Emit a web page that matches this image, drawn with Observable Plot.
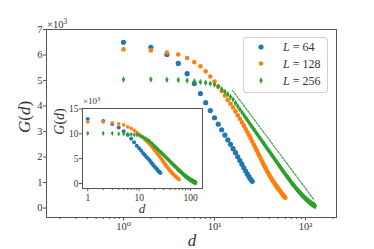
<!DOCTYPE html>
<html><head><meta charset="utf-8">
<script src="https://cdn.jsdelivr.net/npm/d3@7"></script>
<script src="https://cdn.jsdelivr.net/npm/@observablehq/plot@0.6"></script>
<style>
body{margin:0;background:#fff;}
#wrap{position:relative;width:374px;height:249px;}
#wrap svg{position:absolute;left:0;top:0;}
</style></head><body><div id="wrap"></div>
<script>
// ---- data (main panel, G in units of 10^3, d = 1,2,3,...) ----
const blueG = [6.50,6.30,6.02,5.67,5.27,4.88,4.49,4.13,3.82,3.54,3.29,3.07,2.86,2.67,2.50,2.33,2.17,2.01,1.86,1.72,1.58,1.45,1.33,1.22,1.13,1.05];
const orangeG = [6.22,6.18,6.10,6.02,5.88,5.72,5.56,5.36,5.16,4.96,4.77,4.59,4.41,4.24,4.09,3.94,3.79,3.64,3.50,3.36,3.23,3.10,2.97,2.85,2.73,2.61,2.49,2.38,2.27,2.16,2.06,1.96,1.86,1.77,1.68,1.60,1.52,1.44,1.37,1.30,1.23,1.17,1.11,1.05,1.00,0.95,0.90,0.85,0.81,0.77,0.73,0.69,0.65,0.61,0.57,0.53,0.49,0.46,0.43,0.40];
const greenG = [5.04,5.04,5.03,5.02,5.00,4.97,4.94,4.91,4.88,4.84,4.76,4.66,4.56,4.46,4.36,4.26,4.12,3.99,3.87,3.76,3.65,3.54,3.45,3.35,3.26,3.17,3.09,3.01,2.93,2.86,2.78,2.71,2.65,2.58,2.52,2.45,2.39,2.33,2.28,2.22,2.17,2.11,2.06,2.01,1.96,1.91,1.86,1.82,1.77,1.73,1.68,1.64,1.60,1.56,1.51,1.47,1.44,1.40,1.36,1.32,1.29,1.26,1.23,1.20,1.16,1.13,1.10,1.07,1.03,1.00,0.97,0.95,0.92,0.90,0.87,0.85,0.82,0.80,0.77,0.75,0.72,0.70,0.68,0.66,0.64,0.62,0.60,0.58,0.56,0.54,0.52,0.50,0.49,0.47,0.45,0.44,0.42,0.40,0.39,0.37,0.36,0.34,0.33,0.32,0.30,0.29,0.28,0.26,0.25,0.24,0.23,0.22,0.21,0.20,0.19,0.18,0.17,0.16,0.15,0.14,0.13,0.12,0.12,0.11,0.10,0.10,0.09,0.08];
const dashD = [15.8, 122.4];
const dashG = [4.61, 0.35];

// ---- data (inset panel) ----
const insetBlue = [13.0,12.6,12.0,11.3,10.5,9.8,9.0,8.3,7.6,7.1,6.6,6.1,5.7,5.3,5.0,4.7,4.3,4.0,3.7,3.4,3.2,2.9,2.7,2.4,2.3,2.1];
const insetOrange = [12.4,12.4,12.2,12.0,11.8,11.4,11.1,10.7,10.3,9.9,9.5,9.2,8.8,8.5,8.2,7.9,7.6,7.3,7.0,6.7,6.5,6.2,5.9,5.7,5.5,5.2,5.0,4.8,4.5,4.3,4.1,3.9,3.7,3.5,3.4,3.2,3.0,2.9,2.7,2.6,2.5,2.3,2.2,2.1,2.0,1.9,1.8,1.7,1.6,1.5,1.5,1.4,1.3,1.2,1.1,1.1,1.0,0.9,0.9,0.8];
const insetGreen = [10.1,10.1,10.1,10.0,10.0,9.9,9.9,9.8,9.8,9.7,9.5,9.3,9.1,8.9,8.7,8.5,8.2,8.0,7.7,7.5,7.3,7.1,6.9,6.7,6.5,6.3,6.2,6.0,5.9,5.7,5.6,5.4,5.3,5.2,5.0,4.9,4.8,4.7,4.6,4.4,4.3,4.2,4.1,4.0,3.9,3.8,3.7,3.6,3.5,3.5,3.4,3.3,3.2,3.1,3.0,2.9,2.9,2.8,2.7,2.6,2.6,2.5,2.5,2.4,2.3,2.3,2.2,2.1,2.1,2.0,1.9,1.9,1.8,1.8,1.7,1.7,1.6,1.6,1.5,1.5,1.4,1.4,1.4,1.3,1.3,1.2,1.2,1.2,1.1,1.1,1.0,1.0,1.0,0.9,0.9,0.9,0.8,0.8,0.8,0.7,0.7,0.7,0.7,0.6,0.6,0.6,0.6,0.5,0.5,0.5,0.5,0.4,0.4,0.4,0.4,0.4,0.3,0.3,0.3,0.3,0.3,0.2,0.2,0.2,0.2,0.2,0.2,0.2];

// ---- ticks & labels ----
const mainXMajor = [1, 10, 100];
const mainXLabels = ["10\u2070", "10\u00B9", "10\u00B2"];
const mainXMinor = [0.2,0.3,0.4,0.5,0.6,0.7,0.8,0.9,2,3,4,5,6,7,8,9,20,30,40,50,60,70,80,90,200];
const mainYTicks = [0,1,2,3,4,5,6,7];
const insetXMajor = [1, 10, 100];
const insetXLabels = ["1", "10", "100"];
const insetXMinor = [2,3,4,5,6,7,8,9,20,30,40,50,60,70,80,90];
const insetYTicks = [0,5,10,15];
const legendL = ["64", "128", "256"];
const colors = ["#1f77b4", "#ff7f0e", "#2ca02c"];

const W = 374, H = 249;
const font = '"Liberation Serif", "DejaVu Serif", serif';
const thinDiamond = {draw(ctx, size){ const r = Math.sqrt(size/Math.PI); const h = r*1.1, w = r*0.6;
  ctx.moveTo(0,-h); ctx.lineTo(w,0); ctx.lineTo(0,h); ctx.lineTo(-w,0); ctx.closePath(); }};
const rows = vals => vals.map((g,i)=>({d:i+1, g}));
const dashRows = dashD.map((d,i)=>({d, g:dashG[i]}));

const main = Plot.plot({
  width:W, height:H, marginLeft:46, marginRight:38, marginTop:29, marginBottom:32,
  style:{fontFamily:font, fontSize:"10.5px", color:"#333", background:"transparent", overflow:"visible"},
  x:{type:"log", domain:[0.1426, 219], label:null},
  y:{domain:[-0.37, 7.0], label:null},
  marks:[
    Plot.axisX({ticks:mainXMinor, tickSize:2, tickFormat:()=>"", label:null, stroke:"#555"}),
    Plot.axisX({ticks:mainXMajor, tickSize:3.5, tickPadding:2, tickFormat:d=>mainXLabels[mainXMajor.indexOf(d)], label:null, stroke:"#555"}),
    Plot.axisY({ticks:mainYTicks, tickSize:3, tickPadding:1, tickFormat:d=>String(d), label:null, stroke:"#555"}),
    Plot.frame({stroke:"#555"}),
    Plot.dot(rows(blueG), {x:"d", y:"g", r:2.6, fill:colors[0]}),
    Plot.dot(rows(orangeG), {x:"d", y:"g", r:2.3, fill:colors[1]}),
    Plot.line(dashRows, {x:"d", y:"g", stroke:colors[2], strokeWidth:1.1, strokeDasharray:"2.2,1.4"}),
    Plot.dot(rows(greenG), {x:"d", y:"g", r:2.9, symbol:thinDiamond, fill:colors[2]})
  ]
});

const inset = Plot.plot({
  width:W, height:H, marginLeft:82, marginRight:172, marginTop:108, marginBottom:61,
  style:{fontFamily:font, fontSize:"9.5px", color:"#333", background:"transparent", overflow:"visible"},
  x:{type:"log", domain:[0.79, 171], label:null},
  y:{domain:[-1.0, 15.1], label:null},
  marks:[
    Plot.frame({fill:"white", stroke:"none"}),
    Plot.axisX({ticks:insetXMinor, tickSize:2, tickFormat:()=>"", label:null, stroke:"#555"}),
    Plot.axisX({ticks:insetXMajor, tickSize:3, tickPadding:2.5, tickFormat:d=>insetXLabels[insetXMajor.indexOf(d)], label:null, stroke:"#555"}),
    Plot.axisY({ticks:insetYTicks, tickSize:3, tickPadding:1, tickFormat:d=>String(d), label:null, stroke:"#555"}),
    Plot.dot(rows(insetBlue), {x:"d", y:"g", r:2.0, fill:colors[0]}),
    Plot.dot(rows(insetOrange), {x:"d", y:"g", r:1.8, fill:colors[1]}),
    Plot.dot(rows(insetGreen), {x:"d", y:"g", r:2.4, symbol:thinDiamond, fill:colors[2]}),
    Plot.frame({stroke:"#555"})
  ]
});

const wrap = document.getElementById("wrap");
wrap.appendChild(main);
wrap.appendChild(inset);

function addText(svg, x, y, size, parts, opts={}) {
  const t = d3.select(svg).append("text")
    .attr("transform", `translate(${x},${y}) rotate(${opts.rotate||0})`)
    .attr("text-anchor", opts.anchor||"middle")
    .attr("font-size", size).attr("fill", "#333").attr("font-family", font);
  parts.forEach(([s,it,sup]) => {
    const sp = t.append("tspan").text(s).attr("font-style", it ? "italic" : "normal");
    if (sup) sp.attr("font-size", size*0.7).attr("dy", -size*0.38);
  });
  return t;
}
// main labels
addText(main, 30, 117, 17, [["G",1],["(",0],["d",1],[")",0]], {rotate:-90});
addText(main, 192, 246, 17, [["d",1]]);
addText(main, 47, 28, 10.5, [["\u00D710",0],["3",0,1]], {anchor:"start"});
// inset labels
addText(inset, 64, 121.5, 14, [["G",1],["(",0],["d",1],[")",0]], {rotate:-90});
addText(inset, 142, 213, 13, [["d",1]]);
addText(inset, 83, 104, 9, [["\u00D710",0],["3",0,1]], {anchor:"start"});

// legend
const lg = d3.select(inset).append("g");
lg.append("rect").attr("x",243.5).attr("y",37.5).attr("width",84).attr("height",55).attr("rx",2.5)
  .attr("fill","white").attr("fill-opacity",0.85).attr("stroke","#d0d0d0");
const ly = [47, 63.5, 80.5];
lg.append("circle").attr("cx",261).attr("cy",ly[0]).attr("r",2.6).attr("fill",colors[0]);
lg.append("circle").attr("cx",261).attr("cy",ly[1]).attr("r",2.3).attr("fill",colors[1]);
lg.append("path").attr("transform",`translate(261,${ly[2]})`)
  .attr("d", d3.symbol().type(thinDiamond).size(Math.PI*2.9*2.9)()).attr("fill",colors[2]);
legendL.forEach((v,i)=>{
  addText(inset, 283, ly[i]+4.2, 12, [["L",1],[" = "+v,0]], {anchor:"start"});
});
</script></body></html>
